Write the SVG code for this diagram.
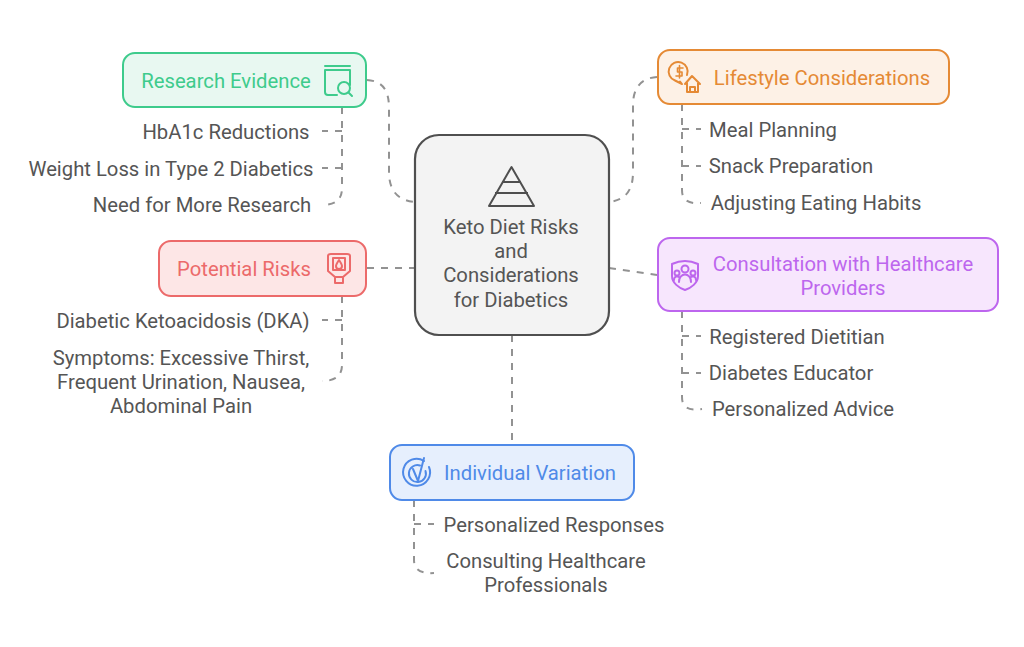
<svg xmlns="http://www.w3.org/2000/svg" width="1024" height="647" viewBox="0 0 1024 647">
<style>
text{font-family:Roboto,"Liberation Sans",sans-serif;font-size:20.25px;text-anchor:middle;fill:#555;transform:translateY(.7px)}
.c{fill:none;stroke:#929292;stroke-width:2;stroke-dasharray:7 7}
.i{fill:none;stroke-width:2;stroke-linecap:round;stroke-linejoin:round}
.b{stroke-width:2}
</style>
<rect width="1024" height="647" fill="#fff"/>
<g id="connectors">
<path class="c" d="M367 80C384 81 389 92 389 108V172C389 190 397 200 414 202"/>
<path class="c" d="M657 77C641 78 633 88 633 105V172C633 190 626 200 609 202"/>
<path class="c" d="M367 268H414"/>
<path class="c" d="M609 268L657 275"/>
<path class="c" d="M512 335V445"/>
<path class="c" d="M342 107V188C342 200 335 205 322 205"/>
<path class="c" d="M342 131H322"/>
<path class="c" d="M342 168H322"/>
<path class="c" d="M682 104V190C682 200 688 204 701 203"/>
<path class="c" d="M682 129H701"/>
<path class="c" d="M682 166H701"/>
<path class="c" d="M342 296V365C342 376 335 381 322 381"/>
<path class="c" d="M342 320H322"/>
<path class="c" d="M682 311V397C682 407 688 411 702 409"/>
<path class="c" d="M682 336H701"/>
<path class="c" d="M682 373H701"/>
<path class="c" d="M414 500V560C414 569 420 574 434 573"/>
<path class="c" d="M414 524H434"/>
</g>
<g id="center">
<rect x="415" y="135" width="194" height="200" rx="24" fill="#f3f3f3" stroke="#4f4f4f" stroke-width="2.2"/>
<path d="M511.500 167L489 206H534ZM502 182H521M495 193H528" fill="none" stroke="#4f4f4f" stroke-width="2" stroke-linejoin="round"/>
<text x="511" y="233">Keto Diet Risks</text>
<text x="511" y="257">and</text>
<text x="511" y="281">Considerations</text>
<text x="511" y="306">for Diabetics</text>
</g>
<g id="research">
<rect class="b" x="123" y="53" width="243" height="54" rx="12" fill="#e8f8f1" stroke="#3ecb8c"/>
<text x="226" y="87" style="fill:#3ecb8c">Research Evidence</text>
<g class="i" stroke="#3ecb8c"><path d="M325 66H350M325 70V92Q325 95 328 95H337M325 70H350V85"/><circle cx="344" cy="88" r="6"/><path d="M348.500 92.500L352 96"/></g>
</g>
<g id="hba"><text x="226" y="138">HbA1c Reductions</text></g>
<g id="weight"><text x="171" y="175">Weight Loss in Type 2 Diabetics</text></g>
<g id="need"><text x="202" y="211">Need for More Research</text></g>
<g id="lifestyle">
<rect class="b" x="658" y="50" width="291" height="54" rx="12" fill="#fdf1e6" stroke="#e58a35"/>
<text x="822" y="84" style="fill:#e58a35">Lifestyle Considerations</text>
<g class="i" stroke="#e58a35"><path d="M687 75A9.500 9.500 0 1 0 675 80.500L682 84L680 81.500"/><path d="M683 68H677.500V72H682V76H676M679.500 65.500V78" stroke-width="1.600"/><path d="M685 84L692 76L700 84M687 83V92H698V83M690 92V87H695V92"/></g>
</g>
<g id="meal"><text x="773" y="136">Meal Planning</text></g>
<g id="snack"><text x="791" y="172">Snack Preparation</text></g>
<g id="adjust"><text x="816" y="209">Adjusting Eating Habits</text></g>
<g id="risks">
<rect class="b" x="159" y="241" width="207" height="55" rx="12" fill="#fde6e6" stroke="#ec6a6a"/>
<text x="244" y="275" style="fill:#ec6a6a">Potential Risks</text>
<g class="i" stroke="#ec6a6a"><path d="M328 256Q328 254 331 254H347Q350 254 350 256V271L343 277H335L328 271ZM333 258H345V270H333ZM335 277V283H343V277"/><path d="M339 260C337 263 336 265 336 266A3 3 0 0 0 342 266C342 265 341 263 339 260Z"/></g>
</g>
<g id="dka"><text x="183" y="327">Diabetic Ketoacidosis (DKA)</text></g>
<g id="symptoms">
<text x="181" y="364">Symptoms: Excessive Thirst,</text>
<text x="181" y="388">Frequent Urination, Nausea,</text>
<text x="181" y="412">Abdominal Pain</text>
</g>
<g id="consultation">
<rect class="b" x="658" y="238" width="340" height="73" rx="12" fill="#f7e6fd" stroke="#bd66ee"/>
<text x="843" y="270" style="fill:#bd66ee">Consultation with Healthcare</text>
<text x="843" y="294" style="fill:#bd66ee">Providers</text>
<g class="i" stroke="#bd66ee"><path d="M672 264Q685 258 698 264V276C698 283 691 288 685 290C679 288 672 283 672 276Z"/><circle cx="685" cy="269" r="3.500"/><circle cx="677" cy="273" r="2.500"/><circle cx="693" cy="273" r="2.500"/><path d="M679 282C679 272 691 272 691 282M674 280C674 276 678 276 679 277M696 280C696 276 692 276 691 277"/></g>
</g>
<g id="dietitian"><text x="797" y="343">Registered Dietitian</text></g>
<g id="educator"><text x="791" y="379">Diabetes Educator</text></g>
<g id="advice"><text x="803" y="415">Personalized Advice</text></g>
<g id="variation">
<rect class="b" x="390" y="445" width="244" height="55" rx="12" fill="#e6effd" stroke="#4f8ae8"/>
<text x="530" y="479" style="fill:#4f8ae8">Individual Variation</text>
<g class="i" stroke="#4f8ae8"><path d="M424 461A13.500 13.500 0 1 0 429 467"/><path d="M420 465.500A8.500 8.500 0 1 0 425.500 471"/><path d="M413 469L418 481L424 458"/></g>
</g>
<g id="personalized"><text x="554" y="531">Personalized Responses</text></g>
<g id="consulting">
<text x="546" y="567">Consulting Healthcare</text>
<text x="546" y="591">Professionals</text>
</g>
</svg>
